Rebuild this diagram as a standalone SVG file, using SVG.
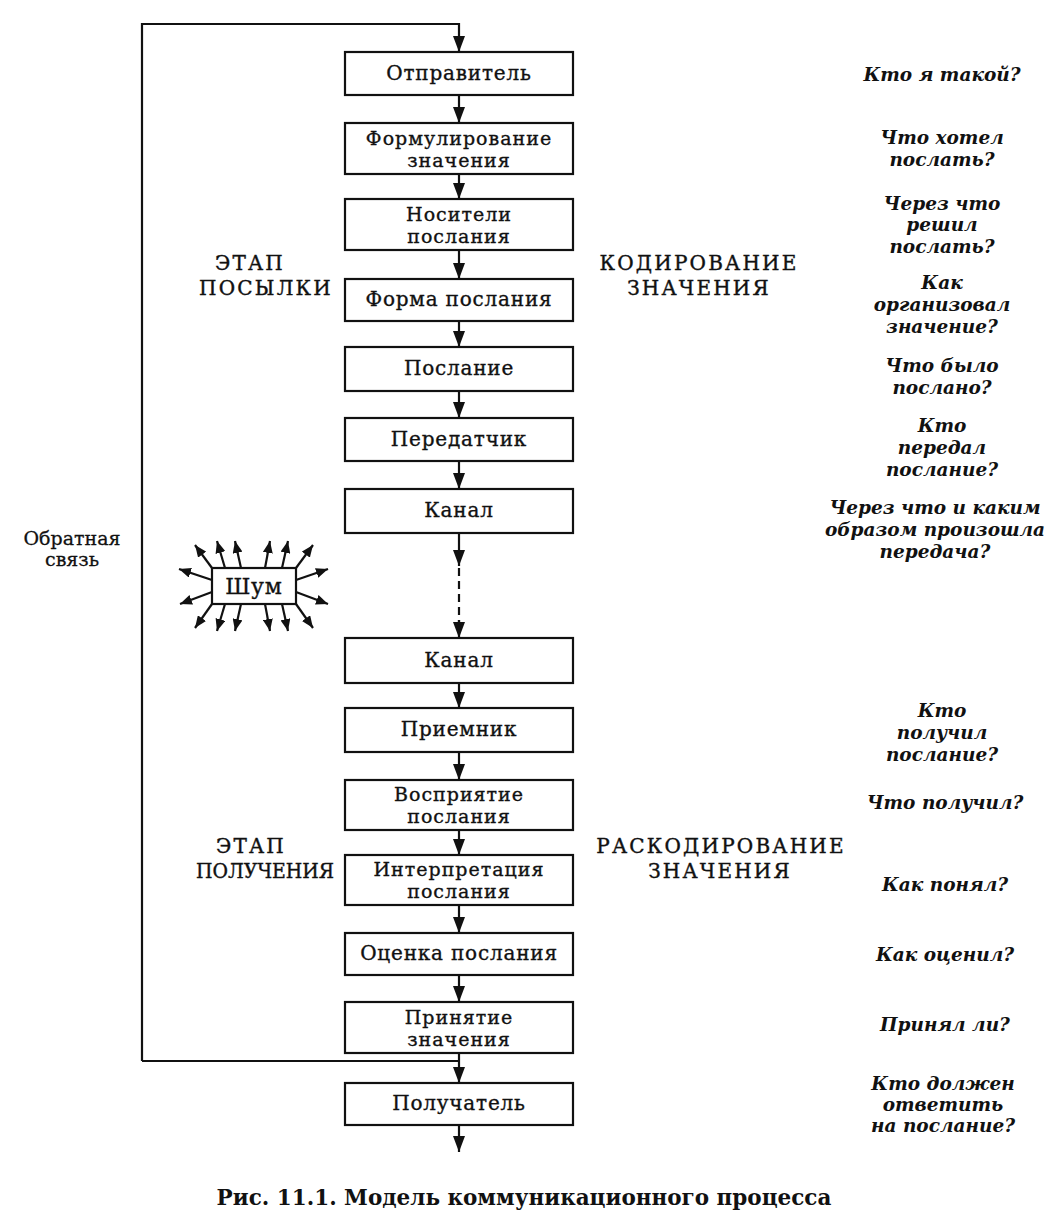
<svg xmlns="http://www.w3.org/2000/svg" width="1048" height="1229" viewBox="0 0 1048 1229">
<defs>
<marker id="ah" markerUnits="userSpaceOnUse" markerWidth="12" markerHeight="16" refX="6" refY="16" orient="0" viewBox="0 0 12 16"><path d="M0,0 L12,0 L6,16 z" fill="#111"/></marker>
<marker id="sa" markerUnits="userSpaceOnUse" markerWidth="12" markerHeight="10" refX="12" refY="5" orient="auto" viewBox="0 0 12 10"><path d="M0,0 L12,5 L0,10 z" fill="#111"/></marker>
<style>
.box{fill:#fff;stroke:#111;stroke-width:2.2}
.bt{font-family:"DejaVu Serif","Liberation Serif",serif;font-size:20px;fill:#111;stroke:#111;stroke-width:0.35px;text-anchor:middle;letter-spacing:0.8px}
.b2{font-size:19px;letter-spacing:1px}
.st{font-family:"DejaVu Serif","Liberation Serif",serif;font-size:20px;fill:#111;stroke:#111;stroke-width:0.4px;text-anchor:middle;letter-spacing:2.2px}
.q{font-family:"DejaVu Serif","Liberation Serif",serif;font-size:18.5px;font-weight:bold;font-style:italic;fill:#111;text-anchor:middle}
.fb{font-family:"DejaVu Serif","Liberation Serif",serif;font-size:19px;fill:#111;stroke:#111;stroke-width:0.3px;text-anchor:middle}
.cap{font-family:"DejaVu Serif","Liberation Serif",serif;font-size:21.5px;font-weight:bold;fill:#111;text-anchor:middle}
.ln{stroke:#111;stroke-width:2.2;fill:none}
.arr{stroke:#111;stroke-width:2.2;fill:none;marker-end:url(#ah)}
.na{stroke:#111;stroke-width:2.2;fill:none;marker-end:url(#sa)}
</style>
</defs>
<rect width="1048" height="1229" fill="#fff"/>

<g id="connectors">
<path class="arr" d="M142,1061 V24 H459 V52"/>
<path class="ln" d="M459,1061 H142"/>
<line class="arr" x1="459" y1="95" x2="459" y2="123"/>
<line class="arr" x1="459" y1="174" x2="459" y2="199"/>
<line class="arr" x1="459" y1="250" x2="459" y2="279"/>
<line class="arr" x1="459" y1="321" x2="459" y2="347"/>
<line class="arr" x1="459" y1="391" x2="459" y2="418"/>
<line class="arr" x1="459" y1="461" x2="459" y2="489"/>
<line class="arr" x1="459" y1="533" x2="459" y2="566"/>
<line class="ln" x1="459" y1="568" x2="459" y2="624" stroke-dasharray="8,5"/>
<line class="arr" x1="459" y1="620" x2="459" y2="638"/>
<line class="arr" x1="459" y1="683" x2="459" y2="708"/>
<line class="arr" x1="459" y1="752" x2="459" y2="780"/>
<line class="arr" x1="459" y1="830" x2="459" y2="855"/>
<line class="arr" x1="459" y1="905" x2="459" y2="933"/>
<line class="arr" x1="459" y1="975" x2="459" y2="1002"/>
<line class="arr" x1="459" y1="1053" x2="459" y2="1083"/>
<line class="arr" x1="459" y1="1125" x2="459" y2="1152"/>
</g>

<g id="n1"><rect class="box" x="345" y="52" width="228" height="43"/><text class="bt" x="459" y="80">Отправитель</text></g>
<g id="n2"><rect class="box" x="345" y="123" width="228" height="51"/><text class="bt b2" x="459" y="144.5">Формулирование</text><text class="bt b2" x="459" y="166.8">значения</text></g>
<g id="n3"><rect class="box" x="345" y="199" width="228" height="51"/><text class="bt b2" x="459" y="220.5">Носители</text><text class="bt b2" x="459" y="242.8">послания</text></g>
<g id="n4"><rect class="box" x="345" y="279" width="228" height="42"/><text class="bt" x="459" y="306">Форма послания</text></g>
<g id="n5"><rect class="box" x="345" y="347" width="228" height="44"/><text class="bt" x="459" y="375">Послание</text></g>
<g id="n6"><rect class="box" x="345" y="418" width="228" height="43"/><text class="bt" x="459" y="446">Передатчик</text></g>
<g id="n7"><rect class="box" x="345" y="489" width="228" height="44"/><text class="bt" x="459" y="517">Канал</text></g>
<g id="n8"><rect class="box" x="345" y="638" width="228" height="45"/><text class="bt" x="459" y="667">Канал</text></g>
<g id="n9"><rect class="box" x="345" y="708" width="228" height="44"/><text class="bt" x="459" y="736">Приемник</text></g>
<g id="n10"><rect class="box" x="345" y="780" width="228" height="50"/><text class="bt b2" x="459" y="801">Восприятие</text><text class="bt b2" x="459" y="823.3">послания</text></g>
<g id="n11"><rect class="box" x="345" y="855" width="228" height="50"/><text class="bt b2" x="459" y="876">Интерпретация</text><text class="bt b2" x="459" y="898.3">послания</text></g>
<g id="n12"><rect class="box" x="345" y="933" width="228" height="42"/><text class="bt" x="459" y="960">Оценка послания</text></g>
<g id="n13"><rect class="box" x="345" y="1002" width="228" height="51"/><text class="bt b2" x="459" y="1023.5">Принятие</text><text class="bt b2" x="459" y="1045.8">значения</text></g>
<g id="n14"><rect class="box" x="345" y="1083" width="228" height="42"/><text class="bt" x="459" y="1110">Получатель</text></g>

<g id="noise">
<path class="na" d="M212,568 L195,545"/>
<path class="na" d="M225,568 L217,541"/>
<path class="na" d="M241,568 L235,541"/>
<path class="na" d="M265,568 L270,541"/>
<path class="na" d="M282,568 L288,541"/>
<path class="na" d="M296,568 L313,545"/>
<path class="na" d="M212,604 L195,628"/>
<path class="na" d="M225,604 L217,631"/>
<path class="na" d="M241,604 L235,631"/>
<path class="na" d="M265,604 L270,631"/>
<path class="na" d="M282,604 L288,631"/>
<path class="na" d="M296,604 L313,628"/>
<path class="na" d="M212,580 L179,569"/>
<path class="na" d="M212,592 L180,604"/>
<path class="na" d="M296,580 L328,569"/>
<path class="na" d="M296,592 L328,604"/>
<rect class="box" x="212" y="568" width="84" height="36"/>
<text class="bt" x="254" y="594" style="font-size:22px">Шум</text>
</g>

<g id="labels">
<text class="st" x="250" y="270">ЭТАП</text>
<text class="st" x="266" y="295">ПОСЫЛКИ</text>
<text class="st" x="699" y="270">КОДИРОВАНИЕ</text>
<text class="st" x="699" y="295">ЗНАЧЕНИЯ</text>
<text class="st" x="251" y="853">ЭТАП</text>
<text class="st" x="265" y="878" style="letter-spacing:0px" textLength="138" lengthAdjust="spacingAndGlyphs">ПОЛУЧЕНИЯ</text>
<text class="st" x="721" y="853">РАСКОДИРОВАНИЕ</text>
<text class="st" x="720" y="878">ЗНАЧЕНИЯ</text>
<text class="fb" x="72" y="545">Обратная</text>
<text class="fb" x="72" y="566">связь</text>
</g>

<g id="questions">
<text class="q" x="942" y="81">Кто я такой?</text>
<text class="q" x="942" y="144">Что хотел</text>
<text class="q" x="942" y="166">послать?</text>
<text class="q" x="942" y="210">Через что</text>
<text class="q" x="942" y="231">решил</text>
<text class="q" x="942" y="253">послать?</text>
<text class="q" x="942" y="289">Как</text>
<text class="q" x="942" y="311">организовал</text>
<text class="q" x="942" y="333">значение?</text>
<text class="q" x="942" y="372">Что было</text>
<text class="q" x="942" y="394">послано?</text>
<text class="q" x="942" y="432">Кто</text>
<text class="q" x="942" y="454">передал</text>
<text class="q" x="942" y="476">послание?</text>
<text class="q" x="935" y="514">Через что и каким</text>
<text class="q" x="935" y="536">образом произошла</text>
<text class="q" x="935" y="558">передача?</text>
<text class="q" x="942" y="717">Кто</text>
<text class="q" x="942" y="739">получил</text>
<text class="q" x="942" y="761">послание?</text>
<text class="q" x="945" y="809">Что получил?</text>
<text class="q" x="945" y="891">Как понял?</text>
<text class="q" x="945" y="961">Как оценил?</text>
<text class="q" x="945" y="1031">Принял ли?</text>
<text class="q" x="943" y="1090">Кто должен</text>
<text class="q" x="943" y="1111">ответить</text>
<text class="q" x="943" y="1132">на послание?</text>
</g>

<text class="cap" x="524" y="1205">Рис. 11.1. Модель коммуникационного процесса</text>
</svg>
